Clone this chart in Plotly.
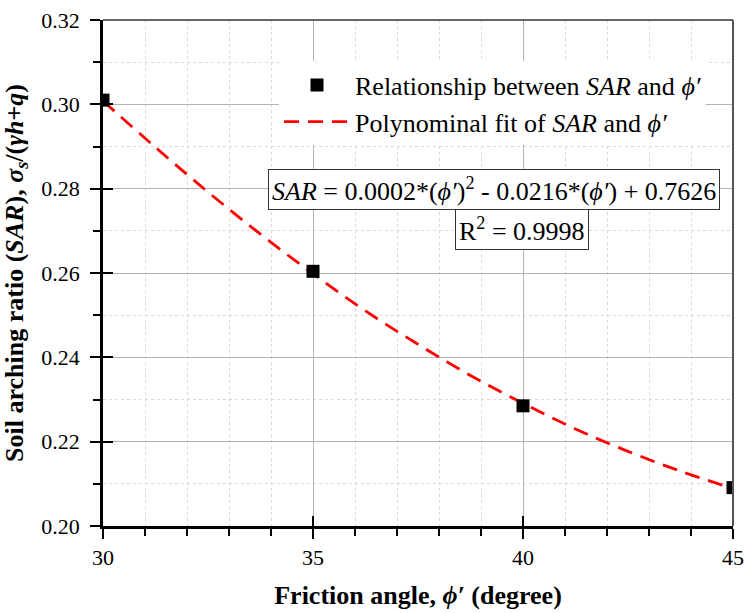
import plotly.graph_objects as go

# Data
phi = [30, 35, 40, 45]
sar = [0.3010, 0.2604, 0.2285, 0.2091]

fit_phi = [30, 31.25, 32.5, 33.75, 35, 36.25, 37.5, 38.75, 40, 41.25, 42.5, 43.75, 45]
fit_sar = [0.3008, 0.2898, 0.2792, 0.2692, 0.2598, 0.2510, 0.2431, 0.2357, 0.2291, 0.2230, 0.2177, 0.2130, 0.2089]

x_ticks = [30, 35, 40, 45]
y_ticks = [0.20, 0.22, 0.24, 0.26, 0.28, 0.30, 0.32]

FONT = "Liberation Serif"

fig = go.Figure()

fig.add_trace(go.Scatter(
    x=fit_phi, y=fit_sar, mode="lines", line_shape="spline",
    name="Polynominal fit of <i>SAR</i> and <i>ϕ′</i>",
    line=dict(color="#ff0000", width=2.8, dash="15px,9px"),
    legendrank=2,
))
fig.add_trace(go.Scatter(
    x=phi, y=sar, mode="markers",
    name="Relationship between <i>SAR</i> and <i>ϕ′</i>",
    marker=dict(symbol="square", size=13, color="black"),
    legendrank=1,
))
# invisible trace to activate the overlay axes (inside ticks)
fig.add_trace(go.Scatter(
    x=phi, y=sar, mode="markers", xaxis="x2", yaxis="y2",
    marker=dict(opacity=0), showlegend=False, hoverinfo="skip",
))

fig.update_layout(
    width=745, height=613,
    paper_bgcolor="white", plot_bgcolor="white",
    margin=dict(l=103, r=12, t=20, b=87, autoexpand=False),
    font=dict(family=FONT, size=22, color="black"),
    showlegend=True,
    legend=dict(
        x=(279 - 103) / 630, y=0.918, xanchor="left", yanchor="top",
        bgcolor="white", borderwidth=0,
        font=dict(family=FONT, size=26, color="black"),
        itemwidth=66, tracegroupgap=0,
    ),
    xaxis=dict(
        range=[30, 45], tickvals=x_ticks, ticktext=[str(v) for v in x_ticks],
        automargin=False,
        showline=True, linecolor="black", linewidth=2.5,
        ticks="outside", ticklen=10, tickwidth=2, tickcolor="black",
        showgrid=True, gridcolor="#b4b4b4", gridwidth=1,
        zeroline=False,
        minor=dict(dtick=1, ticks="outside", ticklen=7, tickwidth=1.5, tickcolor="black",
                   showgrid=True, gridcolor="#d8d8d8", griddash="dot", gridwidth=1),
        title=dict(text="<b>Friction angle, <i>ϕ′</i> (degree)</b>",
                   font=dict(family=FONT, size=26), standoff=17),
        tickfont=dict(family=FONT, size=22),
    ),
    yaxis=dict(
        range=[0.20, 0.32], tickvals=y_ticks, ticktext=[f"{v:.2f}" for v in y_ticks],
        automargin=False,
        showline=True, linecolor="black", linewidth=2.5,
        ticks="outside", ticklen=10, tickwidth=2, tickcolor="black",
        ticklabelstandoff=6,
        showgrid=True, gridcolor="#b4b4b4", gridwidth=1,
        zeroline=False,
        minor=dict(dtick=0.01, ticks="outside", ticklen=7, tickwidth=1.5, tickcolor="black",
                   showgrid=True, gridcolor="#d8d8d8", griddash="dot", gridwidth=1),
        title=dict(text="<b>Soil arching ratio (<i>SAR</i>), <i>σ</i><sub><i>s</i></sub>/(<i>γh</i>+<i>q</i>)</b>",
                   font=dict(family=FONT, size=26), standoff=12),
        tickfont=dict(family=FONT, size=22),
    ),
    xaxis2=dict(
        overlaying="x", range=[30, 45], tickvals=x_ticks, showticklabels=False,
        ticks="inside", ticklen=10, tickwidth=2, tickcolor="black",
        showgrid=False, showline=False, zeroline=False,
    ),
    yaxis2=dict(
        overlaying="y", range=[0.20, 0.32], tickvals=y_ticks, showticklabels=False,
        ticks="inside", ticklen=10, tickwidth=2, tickcolor="black",
        showgrid=False, showline=False, zeroline=False,
    ),
)

# top and right frame lines
fig.add_shape(type="line", xref="paper", yref="paper", x0=0, x1=1, y0=1, y1=1,
              line=dict(color="#333333", width=1.5))
fig.add_shape(type="line", xref="paper", yref="paper", x0=1, x1=1, y0=0, y1=1,
              line=dict(color="#555555", width=2))

fig.add_annotation(
    x=39.3, y=0.2797, xref="x", yref="y", showarrow=False,
    text="<i>SAR</i> = 0.0002*(<i>ϕ′</i>)<sup>2</sup> - 0.0216*(<i>ϕ′</i>) + 0.7626",
    font=dict(family=FONT, size=26, color="black"),
    bgcolor="white", bordercolor="#333333", borderwidth=1, borderpad=3,
)
fig.add_annotation(
    x=39.98, y=0.2703, xref="x", yref="y", showarrow=False,
    text="R<sup>2</sup> = 0.9998",
    font=dict(family=FONT, size=26, color="black"),
    bgcolor="white", bordercolor="#333333", borderwidth=1, borderpad=3,
)

fig.write_html(
    "out.html",
    config={"displayModeBar": False},
    post_script="document.body.style.margin='0';document.body.style.overflow='hidden';",
)
